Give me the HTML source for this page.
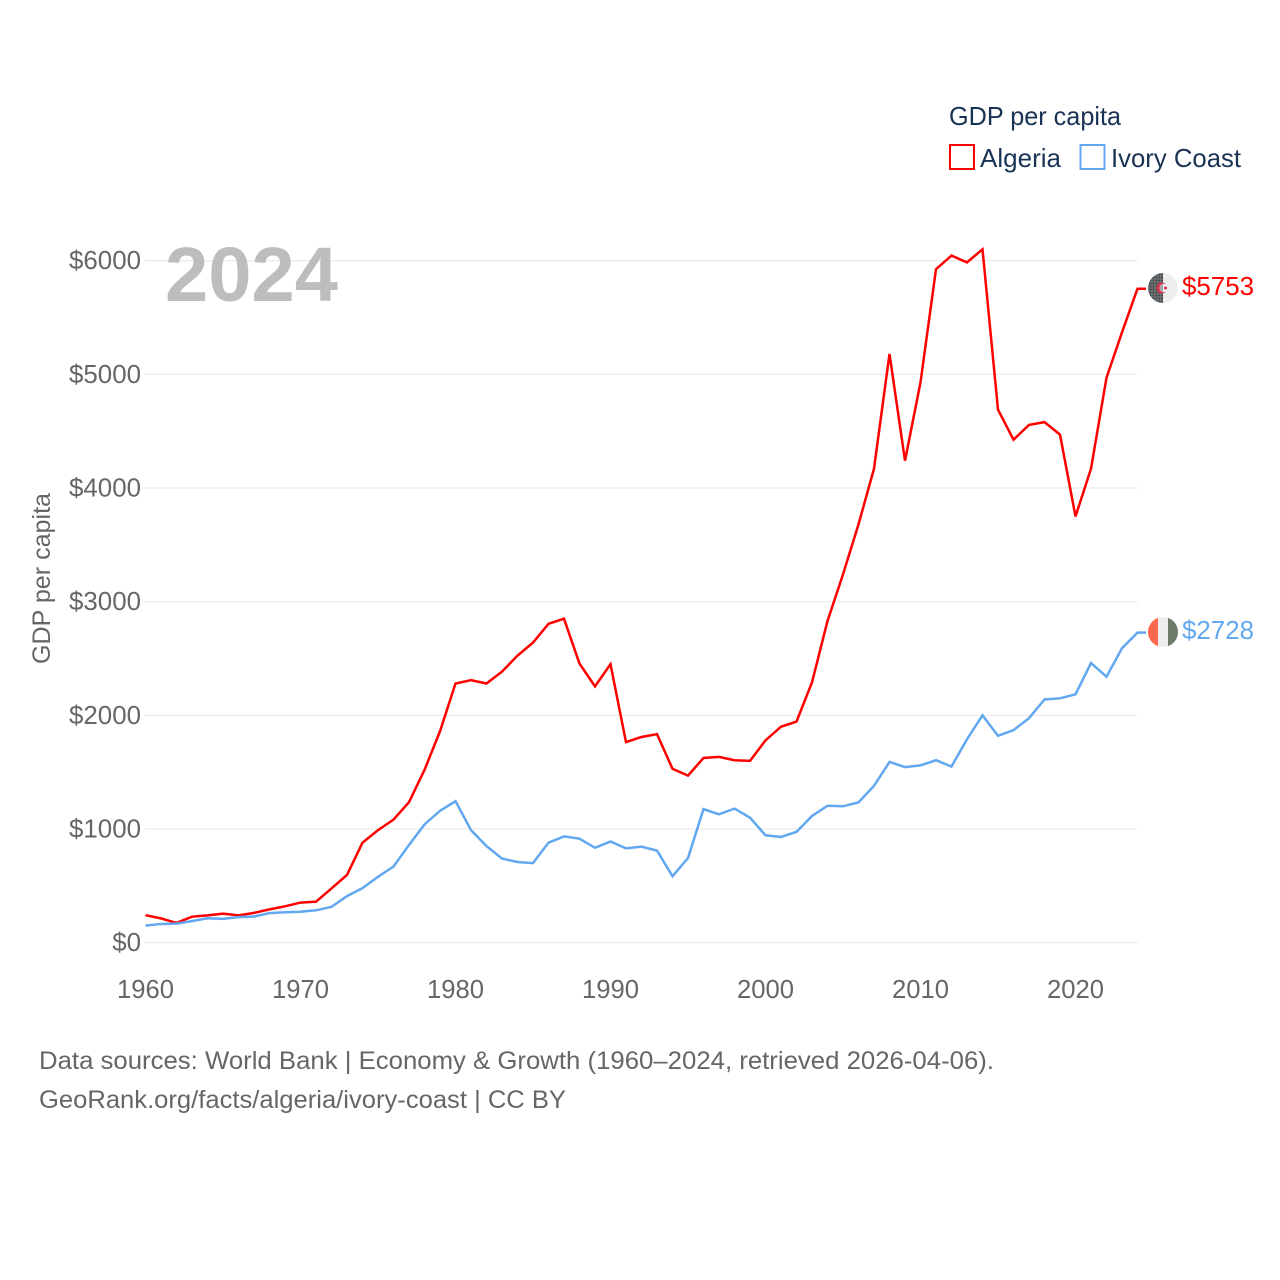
<!DOCTYPE html>
<html>
<head>
<meta charset="utf-8">
<title>GDP per capita: Algeria and Ivory Coast</title>
<style>
html,body{margin:0;padding:0;background:#fff;}
svg{display:block;font-family:"Liberation Sans",sans-serif;}
</style>
</head>
<body>
<svg id="chart" width="1280" height="1280" viewBox="0 0 1280 1280" xmlns="http://www.w3.org/2000/svg">
  <defs>
    <pattern id="flag-dots" width="3" height="3" patternUnits="userSpaceOnUse">
      <rect width="3" height="3" fill="#666b6e"/>
      <circle cx="1.5" cy="1.5" r="0.7" fill="#33383a"/>
    </pattern>
    <clipPath id="flag-clip-a"><circle cx="1163" cy="288" r="15"/></clipPath>
    <clipPath id="flag-clip-b"><circle cx="1163" cy="632" r="15"/></clipPath>
  </defs>
  <rect width="1280" height="1280" fill="#fff"/>
  <g id="grid"></g>
  <g id="yticks"></g>
  <g id="xticks"></g>
  <text transform="translate(50,578.5) rotate(-90)" text-anchor="middle" font-size="25" fill="#666" textLength="171" lengthAdjust="spacingAndGlyphs">GDP per capita</text>
  <text x="165" y="301" font-size="77" font-weight="700" fill="#bdbdbd" textLength="173" lengthAdjust="spacingAndGlyphs">2024</text>
  <g id="series"></g>

  <g clip-path="url(#flag-clip-a)">
    <rect x="1148" y="273" width="15" height="30" fill="url(#flag-dots)"/>
    <rect x="1163" y="273" width="15" height="30" fill="#eeeeee"/>
    <circle cx="1162" cy="288" r="5.5" fill="#d9304a"/>
    <circle cx="1163.5" cy="288" r="4.2" fill="#a9a9ab"/>
    <rect x="1163" y="283.8" width="4.7" height="8.4" fill="#eeeeee"/>
    <circle cx="1165.5" cy="288" r="1.5" fill="#d9304a"/>
  </g>
  <g clip-path="url(#flag-clip-b)">
    <rect x="1148" y="617" width="10" height="30" fill="#ff6850"/>
    <rect x="1158" y="617" width="10" height="30" fill="#eeeeee"/>
    <rect x="1168" y="617" width="10" height="30" fill="#6f7a6b"/>
  </g>
  <g id="endlabels"></g>

  <text x="949" y="125" font-size="26" fill="#1a3355" textLength="172" lengthAdjust="spacingAndGlyphs">GDP per capita</text>
  <g>
    <rect x="950" y="145" width="24" height="24" fill="none" stroke="#ff0000" stroke-width="2"/>
    <text x="980" y="167" font-size="26" fill="#1a3355" textLength="81" lengthAdjust="spacingAndGlyphs">Algeria</text>
  </g>
  <g>
    <rect x="1080.5" y="145" width="24" height="24" fill="none" stroke="#62a8f0" stroke-width="2"/>
    <text x="1111" y="167" font-size="26" fill="#1a3355" textLength="130" lengthAdjust="spacingAndGlyphs">Ivory Coast</text>
  </g>

  <text x="39" y="1069" font-size="25" fill="#666" textLength="955" lengthAdjust="spacingAndGlyphs">Data sources: World Bank | Economy &amp; Growth (1960–2024, retrieved 2026-04-06).</text>
  <text x="39" y="1108" font-size="25" fill="#666" textLength="527" lengthAdjust="spacingAndGlyphs">GeoRank.org/facts/algeria/ivory-coast | CC BY</text>
</svg>
<script>
var years = [1960,1961,1962,1963,1964,1965,1966,1967,1968,1969,1970,1971,1972,1973,1974,1975,1976,1977,1978,1979,1980,1981,1982,1983,1984,1985,1986,1987,1988,1989,1990,1991,1992,1993,1994,1995,1996,1997,1998,1999,2000,2001,2002,2003,2004,2005,2006,2007,2008,2009,2010,2011,2012,2013,2014,2015,2016,2017,2018,2019,2020,2021,2022,2023,2024];
var algeria = [242,214,174,229,240,256,241,262,293,320,353,361,477,596,880,990,1083,1236,1520,1860,2280,2310,2280,2385,2525,2640,2805,2850,2455,2255,2450,1765,1810,1835,1530,1470,1625,1635,1605,1600,1780,1900,1945,2290,2830,3240,3680,4170,5180,4240,4930,5925,6045,5985,6100,4690,4425,4555,4580,4470,3750,4170,4970,5370,5753];
var ivoryCoast = [150,165,168,190,215,210,225,230,260,268,272,285,315,410,480,580,670,860,1040,1160,1245,990,850,740,710,700,880,935,915,835,890,830,845,810,585,745,1175,1130,1180,1100,945,930,975,1115,1205,1200,1235,1380,1590,1545,1560,1605,1550,1790,2000,1820,1870,1975,2140,2150,2185,2460,2340,2590,2728];
var yTicks = [0,1000,2000,3000,4000,5000,6000];
var xTicks = [1960,1970,1980,1990,2000,2010,2020];

var NS = 'http://www.w3.org/2000/svg';
function xScale(year){ return 145.5 + (year - 1960) * 15.5; }
function yScale(value){ return 942.7 - value * 0.11367; }
function make(tag, parentId, attrs, text){
  var el = document.createElementNS(NS, tag);
  for (var k in attrs) el.setAttribute(k, attrs[k]);
  if (text !== undefined) el.textContent = text;
  document.getElementById(parentId).appendChild(el);
  return el;
}

yTicks.forEach(function(v){
  var line = make('line', 'grid', {x1:145, x2:1137.5, y1:yScale(v), y2:yScale(v), stroke:'#ececec', 'stroke-width':1.3});
  
  
  var label = '$' + v;
  var t = make('text', 'yticks', {x:141, y:yScale(v) + 8.5, 'text-anchor':'end', 'font-size':26, fill:'#666', textLength:label.length * 14.4, lengthAdjust:'spacingAndGlyphs'}, label);
  
  
});

xTicks.forEach(function(y){
  var t = make('text', 'xticks', {x:xScale(y), y:998, 'text-anchor':'middle', 'font-size':26, fill:'#666', textLength:57, lengthAdjust:'spacingAndGlyphs'}, String(y));
  
  
});

function drawSeries(values, color, seriesName){
  var pts = values.map(function(v, i){ return xScale(years[i]).toFixed(2) + ',' + yScale(v).toFixed(2); });
  var last = values[values.length - 1];
  pts.push('1146,' + yScale(last).toFixed(2));
  var line = make('polyline', 'series', {points:pts.join(' '), fill:'none', stroke:color, 'stroke-width':2.5, 'stroke-linejoin':'miter'});
  
  
  return last;
}
var lastA = drawSeries(algeria, '#ff0000', 'algeria-line');
var lastB = drawSeries(ivoryCoast, '#62a8f0', 'ivory-coast-line');

var labelA = make('text', 'endlabels', {x:1182, y:295, 'font-size':26, fill:'#ff0000', textLength:72, lengthAdjust:'spacingAndGlyphs'}, '$' + lastA);


var labelB = make('text', 'endlabels', {x:1182, y:639, 'font-size':26, fill:'#62a8f0', textLength:72, lengthAdjust:'spacingAndGlyphs'}, '$' + lastB);


</script>
</body>
</html>
